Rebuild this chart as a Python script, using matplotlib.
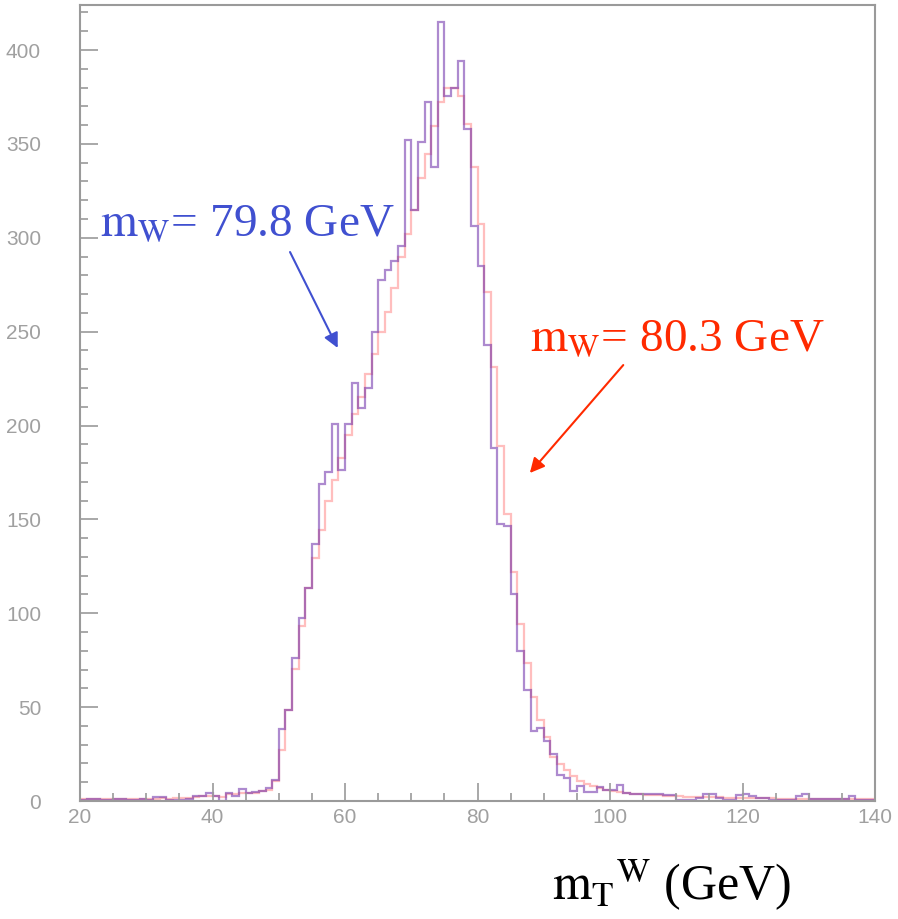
import numpy as np
import matplotlib
matplotlib.use("Agg")
import matplotlib.pyplot as plt
from matplotlib.ticker import MultipleLocator

# bin edges: 1 GeV bins from 20 to 140
edges = np.arange(20, 141, 1)

# m_W = 79.8 GeV sample (purple), bins 20..139
mw798 = [0.5, 1.2, 0.8, 0.5, 0.5, 0.8, 1.0, 0.5, 0.3, 1.2,
         0.3, 2.1, 2.0, 0.5, 0.5, 0.3, 1.0, 2.7, 2.5, 4.4,
         2.7, 0.2, 4.4, 2.7, 6.2, 4.4, 4.8, 5.3, 6.7, 11.0,
         38.5, 48.6, 76.3, 97.5, 113.4, 137, 169, 175, 201, 176.5,
         201, 222.5, 209.5, 220, 250, 277.5, 283, 287.5, 295.5, 352,
         315, 351, 372.5, 337.5, 415, 375.5, 380, 394, 358, 306.5,
         285, 243, 188, 147.5, 146.5, 110.5, 80, 59, 37.5, 39,
         32, 25, 14, 12, 5.5, 8, 4.7, 4.7, 7.3, 6.1,
         6.1, 8.4, 4.1, 3.9, 3.9, 3.5, 3.5, 3.5, 3.2, 3.2,
         0.5, 0.5, 0.5, 1.5, 3.5, 3.5, 1.8, 0.5, 0.5, 3.2,
         3.5, 2.5, 1.8, 1.8, 0.5, 0.5, 0.5, 0.5, 2.7, 3.9,
         1.2, 1.2, 1.2, 1.2, 1.2, 1.2, 2.7, 0.3, 0.3, 0.3]

# m_W = 80.3 GeV sample (pink), bins 20..139
mw803 = [1.0, 1.0, 0.8, 0.8, 1.0, 1.0, 0.8, 1.0, 1.2, 1.0,
         1.2, 1.2, 1.5, 1.2, 1.5, 1.5, 1.8, 2.0, 2.5, 2.7,
         2.7, 2.0, 3.5, 3.5, 4.4, 4.4, 4.4, 5.3, 6.0, 10.5,
         27, 48.6, 70.5, 93, 113.4, 129.5, 144.5, 160, 171, 182.5,
         195, 206, 215, 227.5, 238, 250, 260.5, 273, 289.5, 302,
         315, 332, 344.5, 359.5, 372.5, 380, 380, 375.5, 360.5, 337.5,
         307.5, 271, 231, 189, 153, 122, 94.5, 73.3, 55.2, 43,
         34, 23.6, 19.6, 16.5, 13.3, 10.7, 9.1, 7.8, 6.8, 6.1,
         5.3, 4.7, 4.2, 3.9, 3.6, 3.4, 3.2, 3.0, 2.8, 2.6,
         2.4, 2.3, 2.2, 2.1, 2.0, 2.0, 1.9, 1.8, 1.8, 1.7,
         1.6, 1.5, 1.5, 1.4, 1.4, 1.3, 1.3, 1.2, 1.2, 1.2,
         1.1, 1.1, 1.0, 1.0, 1.0, 1.0, 0.9, 0.9, 0.9, 0.8]

plt.rcParams['mathtext.fontset'] = 'stix'
serif = ['Liberation Serif', 'DejaVu Serif']
grey = '#9a9a9a'

fig = plt.figure(figsize=(8.98, 9.19), dpi=100)
ax = fig.add_axes([0.0891, 0.1284, 0.8853, 0.8662])

ax.stairs(mw803, edges, baseline=None, color='#ff7f7f', alpha=0.5, lw=1.6)
ax.stairs(mw798, edges, baseline=None, color='#6a2aa8', alpha=0.55, lw=1.6)

ax.set_xlim(20, 140)
ax.set_ylim(0, 424)

# ROOT-like axis: grey frame, inward ticks
for s in ax.spines.values():
    s.set_color(grey)
    s.set_linewidth(1.5)
ax.xaxis.set_major_locator(MultipleLocator(20))
ax.xaxis.set_minor_locator(MultipleLocator(5))
ax.yaxis.set_major_locator(MultipleLocator(50))
ax.yaxis.set_minor_locator(MultipleLocator(10))
ax.tick_params(which='both', direction='in', color=grey, width=1.2,
               labelcolor='#a0a0a0', labelsize=15, top=False, right=False)
ax.tick_params(which='major', length=13)
ax.tick_params(which='minor', length=6)
ax.tick_params(axis='x', pad=5)
ax.tick_params(axis='y', pad=28)
for lab in ax.get_xticklabels() + ax.get_yticklabels():
    lab.set_family('Liberation Sans')

# labels and arrows
ax.text(23.0, 301.5, r'$\mathrm{m_W}$= 79.8 GeV', color='#4050d0',
        fontsize=34, family=serif, ha='left', va='baseline')
ax.annotate('', xy=(58.9, 241.3), xytext=(51.7, 292.4),
            arrowprops=dict(arrowstyle='-|>', color='#4050d0', lw=1.5,
                            mutation_scale=22, shrinkA=0, shrinkB=0))
ax.text(87.9, 240.0, r'$\mathrm{m_W}$= 80.3 GeV', color='#ff2a00',
        fontsize=34, family=serif, ha='left', va='baseline')
ax.annotate('', xy=(87.9, 174.7), xytext=(102.0, 232.2),
            arrowprops=dict(arrowstyle='-|>', color='#ff2a00', lw=1.5,
                            mutation_scale=22, shrinkA=0, shrinkB=0))

fig.text(0.748, 0.021, r'$\mathrm{m_T}^{\mathrm{W}}$ (GeV)', fontsize=36,
         family=serif, ha='center', va='baseline', color='black')

fig.savefig('out.png', dpi=100)
